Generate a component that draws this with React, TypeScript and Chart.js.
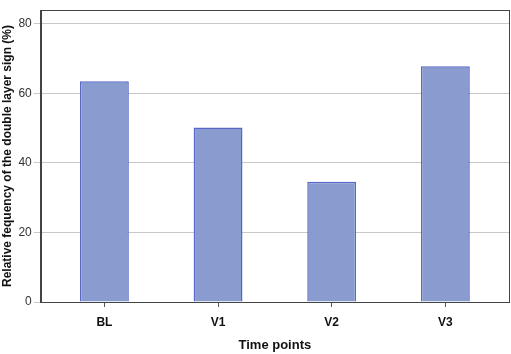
import React, { useEffect, useRef } from "react";
import { Chart, registerables } from "chart.js";

Chart.register(...registerables);

const categories = ["BL", "V1", "V2", "V3"];
const values = [63.5, 50.2, 34.6, 67.8];
const yTicks = [0, 20, 40, 60, 80];

const framePlugin = {
  id: "frame",
  afterDraw(chart: any) {
    const { ctx, chartArea } = chart;
    ctx.save();
    ctx.strokeStyle = "#444";
    ctx.lineWidth = 1;
    ctx.strokeRect(
      Math.round(chartArea.left) + 0.5,
      Math.round(chartArea.top) + 0.5,
      Math.round(chartArea.right - chartArea.left),
      Math.round(chartArea.bottom - chartArea.top)
    );
    ctx.restore();
  },
};

export default function App() {
  const ref = useRef<HTMLCanvasElement>(null);
  useEffect(() => {
    document.body.style.margin = "0";
    const chart = new Chart(ref.current!, {
      type: "bar",
      data: {
        datasets: [
          {
            data: values.map((v, i) => ({ x: i, y: v })),
            backgroundColor: "rgb(137,155,207)",
            borderColor: "rgb(88,104,200)",
            borderWidth: 1.5,
            barPercentage: 0.43,
            categoryPercentage: 1,
          },
        ],
      },
      options: {
        animation: false,
        responsive: false,
        plugins: { legend: { display: false }, tooltip: { enabled: false } },
        layout: { padding: { top: 10, right: 2, left: 0, bottom: 1 } },
        scales: {
          x: {
            type: "linear",
            offset: false,
            min: -0.56,
            max: 3.56,
            afterBuildTicks: (axis: any) => {
              axis.ticks = categories.map((_, i) => ({ value: i }));
            },
            ticks: {
              callback: (v: any) => categories[v] ?? "",
              color: "#111",
              font: { family: "Liberation Sans, Arial", size: 12, weight: "bold" },
              padding: 8,
              maxRotation: 0,
            },
            grid: { offset: false, drawOnChartArea: false, drawTicks: true, tickLength: 5, color: "#555" },
            border: { display: true, color: "#444" },
            title: {
              display: true,
              text: "Time points",
              color: "#111",
              font: { family: "Liberation Sans, Arial", size: 13, weight: "bold" },
              padding: { top: 0, bottom: 0 },
            },
          },
          y: {
            min: 0,
            max: 84,
            afterBuildTicks: (axis: any) => {
              axis.ticks = yTicks.map((v) => ({ value: v }));
            },
            ticks: {
              color: "#333",
              font: { family: "Liberation Sans, Arial", size: 12 },
              padding: 2,
            },
            grid: { color: "#c8c8c8", tickLength: 7, lineWidth: 1 },
            border: { display: true, color: "#444" },
            title: {
              display: true,
              text: "Relative fequency of the double layer sign (%)",
              color: "#111",
              font: { family: "Liberation Sans, Arial", size: 12, weight: "bold" },
              padding: { top: 0, bottom: 2 },
            },
          },
        },
      },
      plugins: [framePlugin],
    } as any);
    return () => chart.destroy();
  }, []);
  return <canvas ref={ref} width={511} height={354} style={{ display: "block" }} />;
}
